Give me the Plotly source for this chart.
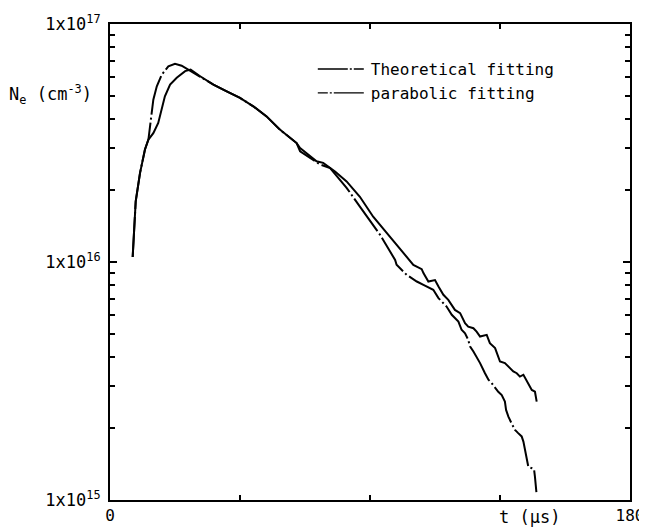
import plotly.graph_objects as go

# ---- data (t in microseconds, Ne in cm^-3) ----
t_theo = [7.85, 8.3, 8.9, 10.4, 12.1, 13.3, 13.8, 15.0, 16.2, 17.9, 20.2, 22.5, 24.8, 27.1, 27.9,
          31.2, 35.8, 40.4, 45.0, 49.6, 54.2, 58.8, 64.6, 65.8, 70.4, 72.7, 76.2, 81.9, 86.5, 91.1,
          93.5, 98.7, 99.2, 102.7, 106.2, 108.5, 110.8, 111.9, 113.7, 115.4, 116.5, 118.3, 119.4,
          120.6, 121.7, 122.9, 124.0, 124.6, 125.8, 126.9, 128.1, 129.8, 131.0, 132.1, 133.3,
          134.4, 135.6, 136.7, 137.1, 137.9, 139.0, 140.2, 141.3, 142.5, 143.1, 143.7, 144.2,
          144.8, 146.0, 146.8, 147.1, 147.6]
ne_theo = [1.05e16, 1.41e16, 1.80e16, 2.37e16, 2.97e16, 3.27e16, 3.72e16, 4.81e16, 5.47e16, 6.12e16,
           6.64e16, 6.81e16, 6.68e16, 6.43e16, 6.38e16,
           6.03e16, 5.56e16, 5.21e16, 4.89e16, 4.51e16, 4.09e16, 3.60e16, 3.16e16, 2.92e16, 2.69e16,
           2.57e16, 2.48e16, 2.05e16, 1.71e16, 1.43e16,
           1.30e16, 1.02e16, 9.73e15, 8.83e15, 8.28e15, 8.02e15, 7.76e15, 7.64e15, 7.05e15, 6.71e15,
           6.50e15, 6.00e15, 5.81e15, 5.62e15, 5.19e15, 5.02e15, 4.71e15, 4.42e15, 4.21e15, 4.01e15,
           3.76e15, 3.41e15, 3.20e15, 3.10e15, 2.95e15, 2.85e15, 2.76e15, 2.59e15, 2.39e15, 2.24e15,
           2.10e15, 1.97e15, 1.91e15, 1.85e15, 1.76e15, 1.62e15, 1.52e15, 1.38e15, 1.36e15, 1.34e15,
           1.25e15, 1.08e15]

t_para = [7.85, 8.3, 8.9, 10.4, 12.1, 13.3, 15.0, 16.7, 17.9, 19.0, 20.8, 23.1, 26.0, 27.9,
          31.2, 35.8, 40.4, 45.0, 49.6, 54.2, 58.8, 64.6, 65.8, 71.5, 73.8, 77.9, 81.9, 86.5, 91.1,
          93.5, 95.8, 98.1, 100.4, 102.7, 105.0, 107.9, 108.5, 110.2, 112.5, 113.7, 115.4, 117.1,
          118.3, 119.4, 121.2, 122.9, 124.0, 125.8, 126.9, 128.1, 130.4, 131.5, 133.3, 135.0,
          136.7, 137.9, 139.6, 140.8, 141.9, 143.1, 144.8, 146.0, 147.1, 147.7]
ne_para = [1.05e16, 1.41e16, 1.80e16, 2.37e16, 2.97e16, 3.27e16, 3.48e16, 3.84e16, 4.37e16, 4.97e16,
           5.56e16, 5.94e16, 6.34e16, 6.43e16,
           6.03e16, 5.56e16, 5.21e16, 4.89e16, 4.51e16, 4.09e16, 3.60e16, 3.16e16, 3.01e16, 2.65e16,
           2.61e16, 2.40e16, 2.18e16, 1.88e16, 1.55e16,
           1.43e16, 1.32e16, 1.22e16, 1.125e16, 1.04e16, 9.73e15, 9.33e15, 8.98e15, 8.28e15, 8.40e15,
           7.89e15, 7.28e15, 6.93e15, 6.61e15, 6.29e15, 6.10e15, 5.53e15, 5.35e15, 5.27e15, 5.10e15,
           4.86e15, 4.94e15, 4.56e15, 4.35e15, 3.82e15, 3.76e15, 3.64e15, 3.47e15, 3.41e15, 3.30e15,
           3.36e15, 3.10e15, 2.90e15, 2.85e15, 2.59e15]

x_ticks = [0, 45, 90, 135, 180]
x_tick_labels = ["0", "", "", "", "180"]
y_major = [1e15, 1e16, 1e17]
y_major_labels = ["1x10<sup>15</sup>", "1x10<sup>16</sup>", "1x10<sup>17</sup>"]
y_minor = [m * 10 ** e for e in (15, 16) for m in range(2, 10)]

FONT = "DejaVu Sans Mono"

fig = go.Figure()
fig.add_trace(go.Scatter(x=t_theo, y=ne_theo, mode="lines", name="Theoretical fitting",
                         line=dict(color="black", width=2, dash="40px,3px,2px,3px"),
                         showlegend=False, legendgroup="theo"))
fig.add_trace(go.Scatter(x=t_para, y=ne_para, mode="lines", name="parabolic fitting",
                         line=dict(color="black", width=2),
                         showlegend=False, legendgroup="para"))
# legend entries (line-style samples)
fig.add_trace(go.Scatter(x=[None], y=[None], mode="lines", name="Theoretical fitting",
                         line=dict(color="black", width=1.3, dash="30px,2px,2px,2px,10px,30px"),
                         legendgroup="theo"))
fig.add_trace(go.Scatter(x=[None], y=[None], mode="lines", name="parabolic fitting",
                         line=dict(color="black", width=1.3, dash="10px,2px,2px,2px,30px,30px"),
                         legendgroup="para"))

# the page body adds an 8px margin, so the figure is 8px smaller than the window
fig.update_layout(
    width=639, height=519,
    margin=dict(l=102, r=17, t=16, b=27, autoexpand=False),
    paper_bgcolor="white", plot_bgcolor="white",
    font=dict(family=FONT, color="black", size=17),
    legend=dict(x=0.39, y=0.941, xanchor="left", yanchor="top", itemwidth=48,
                bgcolor="rgba(0,0,0,0)", font=dict(family=FONT, size=16, color="black"),
                tracegroupgap=0),
    xaxis=dict(range=[0, 180], tickvals=x_ticks, ticktext=x_tick_labels, automargin=False,
               ticks="inside", ticklen=5, tickwidth=1.5, tickcolor="black",
               showline=True, linecolor="black", linewidth=2, mirror="ticks",
               showgrid=False, zeroline=False, tickfont=dict(size=16)),
    yaxis=dict(type="log", range=[15, 17], tickvals=y_major, ticktext=y_major_labels,
               automargin=False, ticklabelstandoff=4,
               ticks="inside", ticklen=7, tickwidth=1.5, tickcolor="black",
               minor=dict(tickvals=y_minor, ticks="inside", ticklen=5, tickwidth=1.5,
                          tickcolor="black", showgrid=False),
               showline=True, linecolor="black", linewidth=2, mirror="ticks",
               showgrid=False, zeroline=False, tickfont=dict(size=17)),
    annotations=[
        dict(text="t (\u03bcs)", x=134, xref="x", y=-0.036, yref="paper",
             xanchor="left", yanchor="middle", showarrow=False, font=dict(size=17)),
        dict(text="N<sub>e</sub> (cm<sup>-3</sup>)", x=-0.198, xref="paper", y=0.851,
             yref="paper", xanchor="left", yanchor="middle", showarrow=False,
             font=dict(size=17)),
    ],
)

fig.write_html("out.html")
